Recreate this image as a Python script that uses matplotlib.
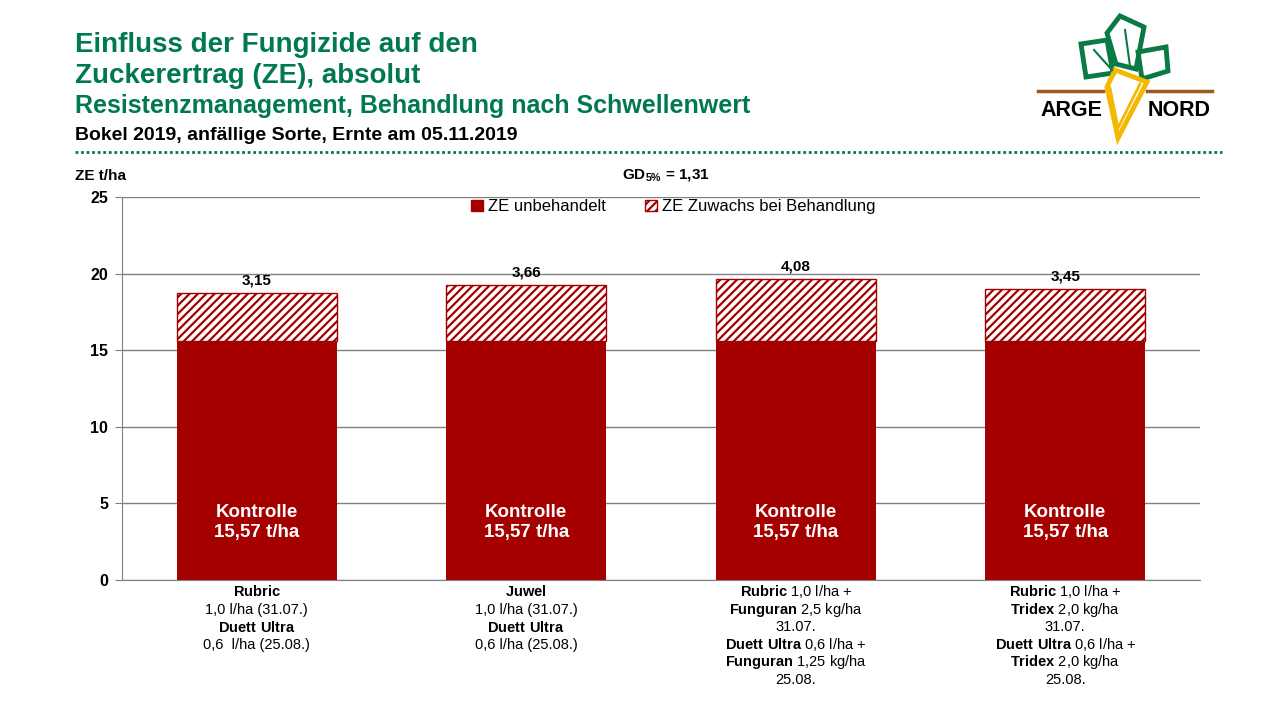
import matplotlib
matplotlib.use("Agg")
import matplotlib.pyplot as plt
from matplotlib.patches import Patch, Polygon
from matplotlib.lines import Line2D

plt.rcParams['font.family'] = ['Liberation Sans', 'DejaVu Sans']
plt.rcParams['mathtext.fontset'] = 'custom'
plt.rcParams['mathtext.rm'] = 'Liberation Sans'
plt.rcParams['mathtext.bf'] = 'Liberation Sans:bold'
plt.rcParams['hatch.linewidth'] = 1.6

# data
base = [15.57, 15.57, 15.57, 15.57]
gain = [3.15, 3.66, 4.08, 3.45]
gain_labels = ["3,15", "3,66", "4,08", "3,45"]
x_labels = [
    [r"$\mathbf{Rubric}$", "1,0 l/ha (31.07.)", r"$\mathbf{Duett\ Ultra}$", "0,6  l/ha (25.08.)"],
    [r"$\mathbf{Juwel}$", "1,0 l/ha (31.07.)", r"$\mathbf{Duett\ Ultra}$", "0,6 l/ha (25.08.)"],
    [r"$\mathbf{Rubric}$ 1,0 l/ha +", r"$\mathbf{Funguran}$ 2,5 kg/ha", "31.07.",
     r"$\mathbf{Duett\ Ultra}$ 0,6 l/ha +", r"$\mathbf{Funguran}$ 1,25 kg/ha", "25.08."],
    [r"$\mathbf{Rubric}$ 1,0 l/ha +", r"$\mathbf{Tridex}$ 2,0 kg/ha", "31.07.",
     r"$\mathbf{Duett\ Ultra}$ 0,6 l/ha +", r"$\mathbf{Tridex}$ 2,0 kg/ha", "25.08."],
]

red = "#A50000"
green = "#007A4D"
grey = "#808080"

fig = plt.figure(figsize=(12.8, 7.2), dpi=100)
ax = fig.add_axes([122/1280, 1-580/720, 1078/1280, 383/720])

xs = range(len(base))
ax.bar(xs, base, width=0.594, color=red, zorder=2)
tops = [b + g for b, g in zip(base, gain)]
ax.bar(xs, gain, bottom=base, width=0.594, color="white", edgecolor=red,
       hatch="////", linewidth=1.0, zorder=2)

for i in xs:
    ax.annotate(gain_labels[i], (i, tops[i]), xytext=(0, 4), textcoords="offset points",
                ha="center", va="bottom", fontsize=11, fontweight="bold")
    ax.text(i, 3.75, "Kontrolle\n15,57 t/ha", ha="center", va="center",
            color="white", fontsize=13.5, fontweight="bold", linespacing=1.3, zorder=3)
    for j, line in enumerate(x_labels[i]):
        ax.text(i, -0.78 - j * 1.15, line, ha="center", va="center", fontsize=10.5)

ax.set_xlim(-0.5, 3.5)
ax.set_ylim(0, 25)
ax.set_yticks([0, 5, 10, 15, 20, 25])
ax.set_xticks([])
ax.yaxis.grid(True, color=grey, linewidth=1.0, zorder=0)
ax.set_axisbelow(True)
for s in ["top", "right"]:
    ax.spines[s].set_visible(False)
for s in ["left", "bottom"]:
    ax.spines[s].set_color(grey)
ax.tick_params(axis="y", length=5, color=grey, pad=5, labelsize=11.5)
for lbl in ax.get_yticklabels():
    lbl.set_fontweight("bold")

handles = [Patch(facecolor=red, edgecolor=red),
           Patch(facecolor="white", edgecolor=red, hatch="////")]
fig.legend(handles, ["ZE unbehandelt", "ZE Zuwachs bei Behandlung"], ncol=2, frameon=False,
           loc="center", bbox_to_anchor=(0.526, 1-207/720), fontsize=12,
           handlelength=0.7, handleheight=0.7, handletextpad=0.3, columnspacing=2.4)

# titles
fig.text(75/1280, 1-45/720, "Einfluss der Fungizide auf den", color=green, fontsize=20,
         fontweight="bold", va="center")
fig.text(75/1280, 1-76/720, "Zuckerertrag (ZE), absolut", color=green, fontsize=20,
         fontweight="bold", va="center")
fig.text(75/1280, 1-106/720, "Resistenzmanagement, Behandlung nach Schwellenwert", color=green,
         fontsize=18, fontweight="bold", va="center")
fig.text(75/1280, 1-135/720, "Bokel 2019, anfällige Sorte, Ernte am 05.11.2019", color="black",
         fontsize=14, fontweight="bold", va="center")
fig.add_artist(Line2D([75/1280, 1222/1280], [1-152/720, 1-152/720], color=green,
                      linewidth=2, linestyle=(0, (1, 1))))

fig.text(75/1280, 1-176/720, "ZE t/ha", fontsize=11, fontweight="bold", va="center")
fig.text(622/1280, 1-176/720, r"GD$_{\mathbf{5\%}}$ = 1,31", fontsize=11, fontweight="bold",
         va="center")

# logo
lg = fig.add_axes([1030/1280, 1-145/720, 190/1280, 135/720])
lg.set_xlim(1030, 1220)
lg.set_ylim(145, 10)
lg.axis("off")
leaves = [
    [(1081, 44), (1107, 40), (1113, 73), (1086, 77)],
    [(1107, 33), (1120, 16), (1144, 27), (1136, 69), (1116, 64)],
    [(1138, 52), (1166, 47), (1168, 71), (1142, 79)],
]
for pts in leaves:
    lg.add_patch(Polygon(pts, closed=True, fill=False, edgecolor="#0A7A45", linewidth=3.5))
lg.plot([1094, 1112], [50, 70], color="#0A7A45", linewidth=1.5)
lg.plot([1125, 1130], [30, 66], color="#0A7A45", linewidth=1.5)
lg.plot([1038, 1103], [91, 91], color="#9C5A1E", linewidth=2.5)
lg.plot([1147, 1212], [91, 91], color="#9C5A1E", linewidth=2.5)
lg.add_patch(Polygon([(1115, 70), (1147, 82), (1118, 138), (1107, 87)], closed=True,
                     fill=False, edgecolor="#F5B800", linewidth=3.5))
lg.plot([1110, 1118, 1140], [88, 128, 84], color="#F5B800", linewidth=2)
lg.text(1071, 110, "ARGE", ha="center", va="center", fontsize=15.5, fontweight="bold")
lg.text(1179, 110, "NORD", ha="center", va="center", fontsize=15.5, fontweight="bold")

fig.savefig("out.png", dpi=100)
